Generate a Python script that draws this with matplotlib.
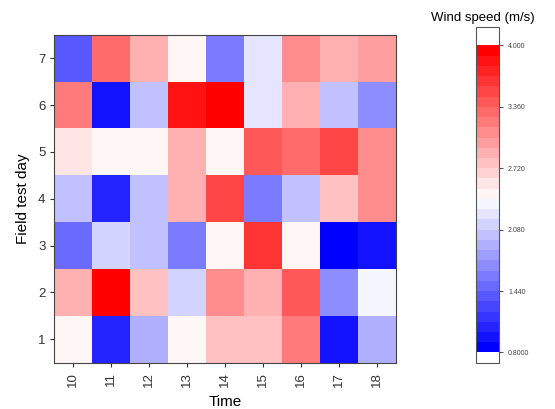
import numpy as np
import matplotlib.pyplot as plt
import matplotlib as mpl

plt.rcParams['font.family'] = ['Liberation Sans', 'DejaVu Sans']

# hours on the x axis, field test days on the y axis
hours = ['10', '11', '12', '13', '14', '15', '16', '17', '18']
days = [1, 2, 3, 4, 5, 6, 7]

# wind speed (m/s), one row per day
day1 = [2.45, 1.05, 1.93, 2.45, 2.81, 2.81, 3.22, 0.99, 1.96]
day2 = [2.93, 3.95, 2.72, 2.12, 3.12, 2.93, 3.37, 1.71, 2.30]
day3 = [1.46, 2.12, 1.99, 1.55, 2.45, 3.62, 2.45, 0.80, 0.99]
day4 = [2.02, 1.02, 1.99, 2.93, 3.47, 1.65, 2.02, 2.81, 3.06]
day5 = [2.55, 2.45, 2.45, 2.85, 2.45, 3.37, 3.28, 3.47, 3.06]
day6 = [3.15, 0.99, 2.05, 3.80, 4.00, 2.20, 2.93, 2.00, 1.74]
day7 = [1.44, 3.36, 2.85, 2.45, 1.60, 2.20, 3.12, 2.85, 3.00]

cbar_ticks = [0.8, 1.44, 2.08, 2.72, 3.36, 4.0]
cbar_labels = ['0.8000', '1.440', '2.080', '2.720', '3.360', '4.000']

speed = np.array([day1, day2, day3, day4, day5, day6, day7])

cmap = plt.get_cmap('bwr', 30).copy()
cmap.set_over('white')
cmap.set_under('white')
norm = mpl.colors.Normalize(vmin=0.8, vmax=4.0)

fig = plt.figure(figsize=(5.55, 4.09), dpi=100)
ax = fig.add_axes([0.098, 0.113, 0.615, 0.802])
x = np.arange(len(hours) + 1) - 0.5
y = np.arange(len(days) + 1) + 0.5
mesh = ax.pcolormesh(x, y, speed, cmap=cmap, norm=norm)

ax.set_xticks(range(len(hours)))
ax.set_xticklabels(hours, rotation=90, color='#333333')
ax.set_yticks(days)
ax.set_yticklabels([str(d) for d in days], color='#333333')
ax.tick_params(labelsize=9.5, length=3, color='#333333')
ax.set_xlabel('Time', fontsize=11, labelpad=6)
ax.set_ylabel('Field test day', fontsize=11, labelpad=6)
for s in ax.spines.values():
    s.set_color('#444444')

cax = fig.add_axes([0.858, 0.112, 0.041, 0.822])
cb = fig.colorbar(mesh, cax=cax, extend='both', extendrect=True,
                  extendfrac=(0.035, 0.06))
cb.set_ticks(cbar_ticks)
cb.set_ticklabels(cbar_labels)
cb.ax.tick_params(labelsize=5, length=3, color='#555555', labelcolor='#444444')
cb.outline.set_edgecolor('#555555')
fig.text(0.87, 0.955, 'Wind speed (m/s)', ha='center', va='center', fontsize=9.5)

plt.savefig('out.png', dpi=100)
